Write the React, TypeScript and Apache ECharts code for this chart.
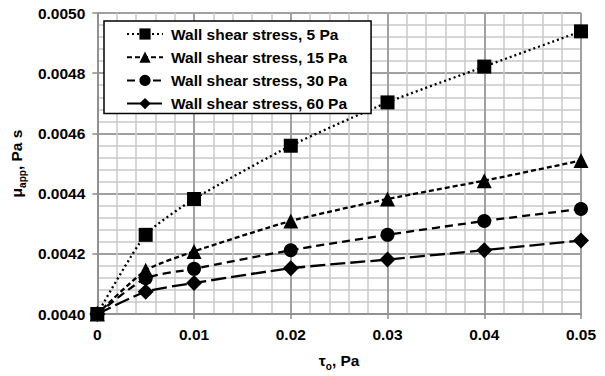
import React, { useEffect, useRef } from "react";
import * as echarts from "echarts";

const xValues = [0, 0.005, 0.01, 0.02, 0.03, 0.04, 0.05];
const stress5 = [0.004, 0.004263, 0.004382, 0.004559, 0.004703, 0.004822, 0.004939];
const stress15 = [0.004, 0.004145, 0.004208, 0.004309, 0.004382, 0.004443, 0.00451];
const stress30 = [0.004, 0.004119, 0.00415, 0.004212, 0.004263, 0.004309, 0.004349];
const stress60 = [0.004, 0.004074, 0.004103, 0.004152, 0.004181, 0.004212, 0.004244];
const seriesNames = [
  "Wall shear stress, 5 Pa",
  "Wall shear stress, 15 Pa",
  "Wall shear stress, 30 Pa",
  "Wall shear stress, 60 Pa",
];

const FONT = "'Liberation Sans', Arial, sans-serif";

export default function App() {
  const ref = useRef<HTMLDivElement>(null);
  useEffect(() => {
    document.body.style.margin = "0";
    const chart = echarts.init(ref.current!, null, { renderer: "svg" });
    const mk = (vals: number[]) => xValues.map((x, i) => [x, vals[i]]);
    const seriesDefs = [
      { data: stress5, symbol: "rect", size: 14, dash: [2, 3] },
      { data: stress15, symbol: "triangle", size: 15, dash: [5, 3] },
      { data: stress30, symbol: "circle", size: 14, dash: [8, 5] },
      { data: stress60, symbol: "diamond", size: 16, dash: [15, 5] },
    ];
    chart.setOption({
      animation: false,
      textStyle: { fontFamily: FONT },
      grid: { left: 95, right: 24, top: 13, bottom: 56 },
      legend: {
        orient: "vertical",
        left: 104,
        top: 21,
        padding: [5, 24, 2, 22],
        itemGap: 7.2,
        itemWidth: 36,
        itemHeight: 14,
        borderColor: "#000",
        borderWidth: 1.5,
        backgroundColor: "#fff",
        textStyle: {
          fontFamily: FONT,
          fontWeight: "bold",
          fontSize: 15.5,
          color: "#000",
          padding: [0, 0, 0, 3],
        },
        data: seriesNames,
      },
      xAxis: {
        type: "value",
        min: 0,
        max: 0.05,
        interval: 0.01,
        name: "{a|τ}{s|o}{a|, Pa}",
        nameLocation: "middle",
        nameGap: 38,
        nameTextStyle: {
          rich: {
            a: { fontFamily: FONT, fontWeight: "bold", fontSize: 15.5, color: "#000", verticalAlign: "bottom" },
            s: { fontFamily: FONT, fontWeight: "bold", fontSize: 10, color: "#000", verticalAlign: "bottom", padding: [0, 0, -3, 0] },
          },
        },
        axisLine: { show: true, lineStyle: { color: "#8c8c8c", width: 1.5 } },
        axisTick: { show: true, inside: false, length: 5, lineStyle: { color: "#8c8c8c", width: 1.5 } },
        axisLabel: {
          margin: 12,
          fontFamily: FONT,
          fontWeight: "bold",
          fontSize: 15.5,
          color: "#000",
          formatter: (v: number) => (v === 0 ? "0" : v.toFixed(2)),
        },
        splitLine: { show: true, lineStyle: { color: "#a0a0a0", width: 2 } },
        minorTick: { show: false, splitNumber: 5 },
        minorSplitLine: { show: true, lineStyle: { color: "#c8c8c8", width: 1.5 } },
      },
      yAxis: {
        type: "value",
        min: 0.004,
        max: 0.005,
        interval: 0.0002,
        name: "{a|μ}{s|app}{a|, Pa s}",
        nameLocation: "middle",
        nameGap: 70,
        nameRotate: 90,
        nameTextStyle: {
          rich: {
            a: { fontFamily: FONT, fontWeight: "bold", fontSize: 15.5, color: "#000", verticalAlign: "bottom" },
            s: { fontFamily: FONT, fontWeight: "bold", fontSize: 10, color: "#000", verticalAlign: "bottom", padding: [0, 0, -3, 0] },
          },
        },
        axisLine: { show: true, lineStyle: { color: "#8c8c8c", width: 1.5 } },
        axisTick: { show: true, inside: false, length: 5, lineStyle: { color: "#8c8c8c", width: 1.5 } },
        axisLabel: {
          margin: 12,
          fontFamily: FONT,
          fontWeight: "bold",
          fontSize: 15.5,
          color: "#000",
          formatter: (v: number) => v.toFixed(4),
        },
        splitLine: { show: true, lineStyle: { color: "#a0a0a0", width: 2 } },
        minorTick: { show: false, splitNumber: 5 },
        minorSplitLine: { show: true, lineStyle: { color: "#c8c8c8", width: 1.5 } },
      },
      series: seriesDefs.map((d, i) => ({
        name: seriesNames[i],
        type: "line",
        data: mk(d.data),
        smooth: 0.2,
        symbol: d.symbol,
        symbolSize: d.size,
        showSymbol: true,
        z: 2 + i,
        itemStyle: { color: "#000" },
        lineStyle: { color: "#000", width: 2.3, type: d.dash },
      })),
    });
    return () => chart.dispose();
  }, []);
  return <div ref={ref} style={{ width: 605, height: 376 }} />;
}
